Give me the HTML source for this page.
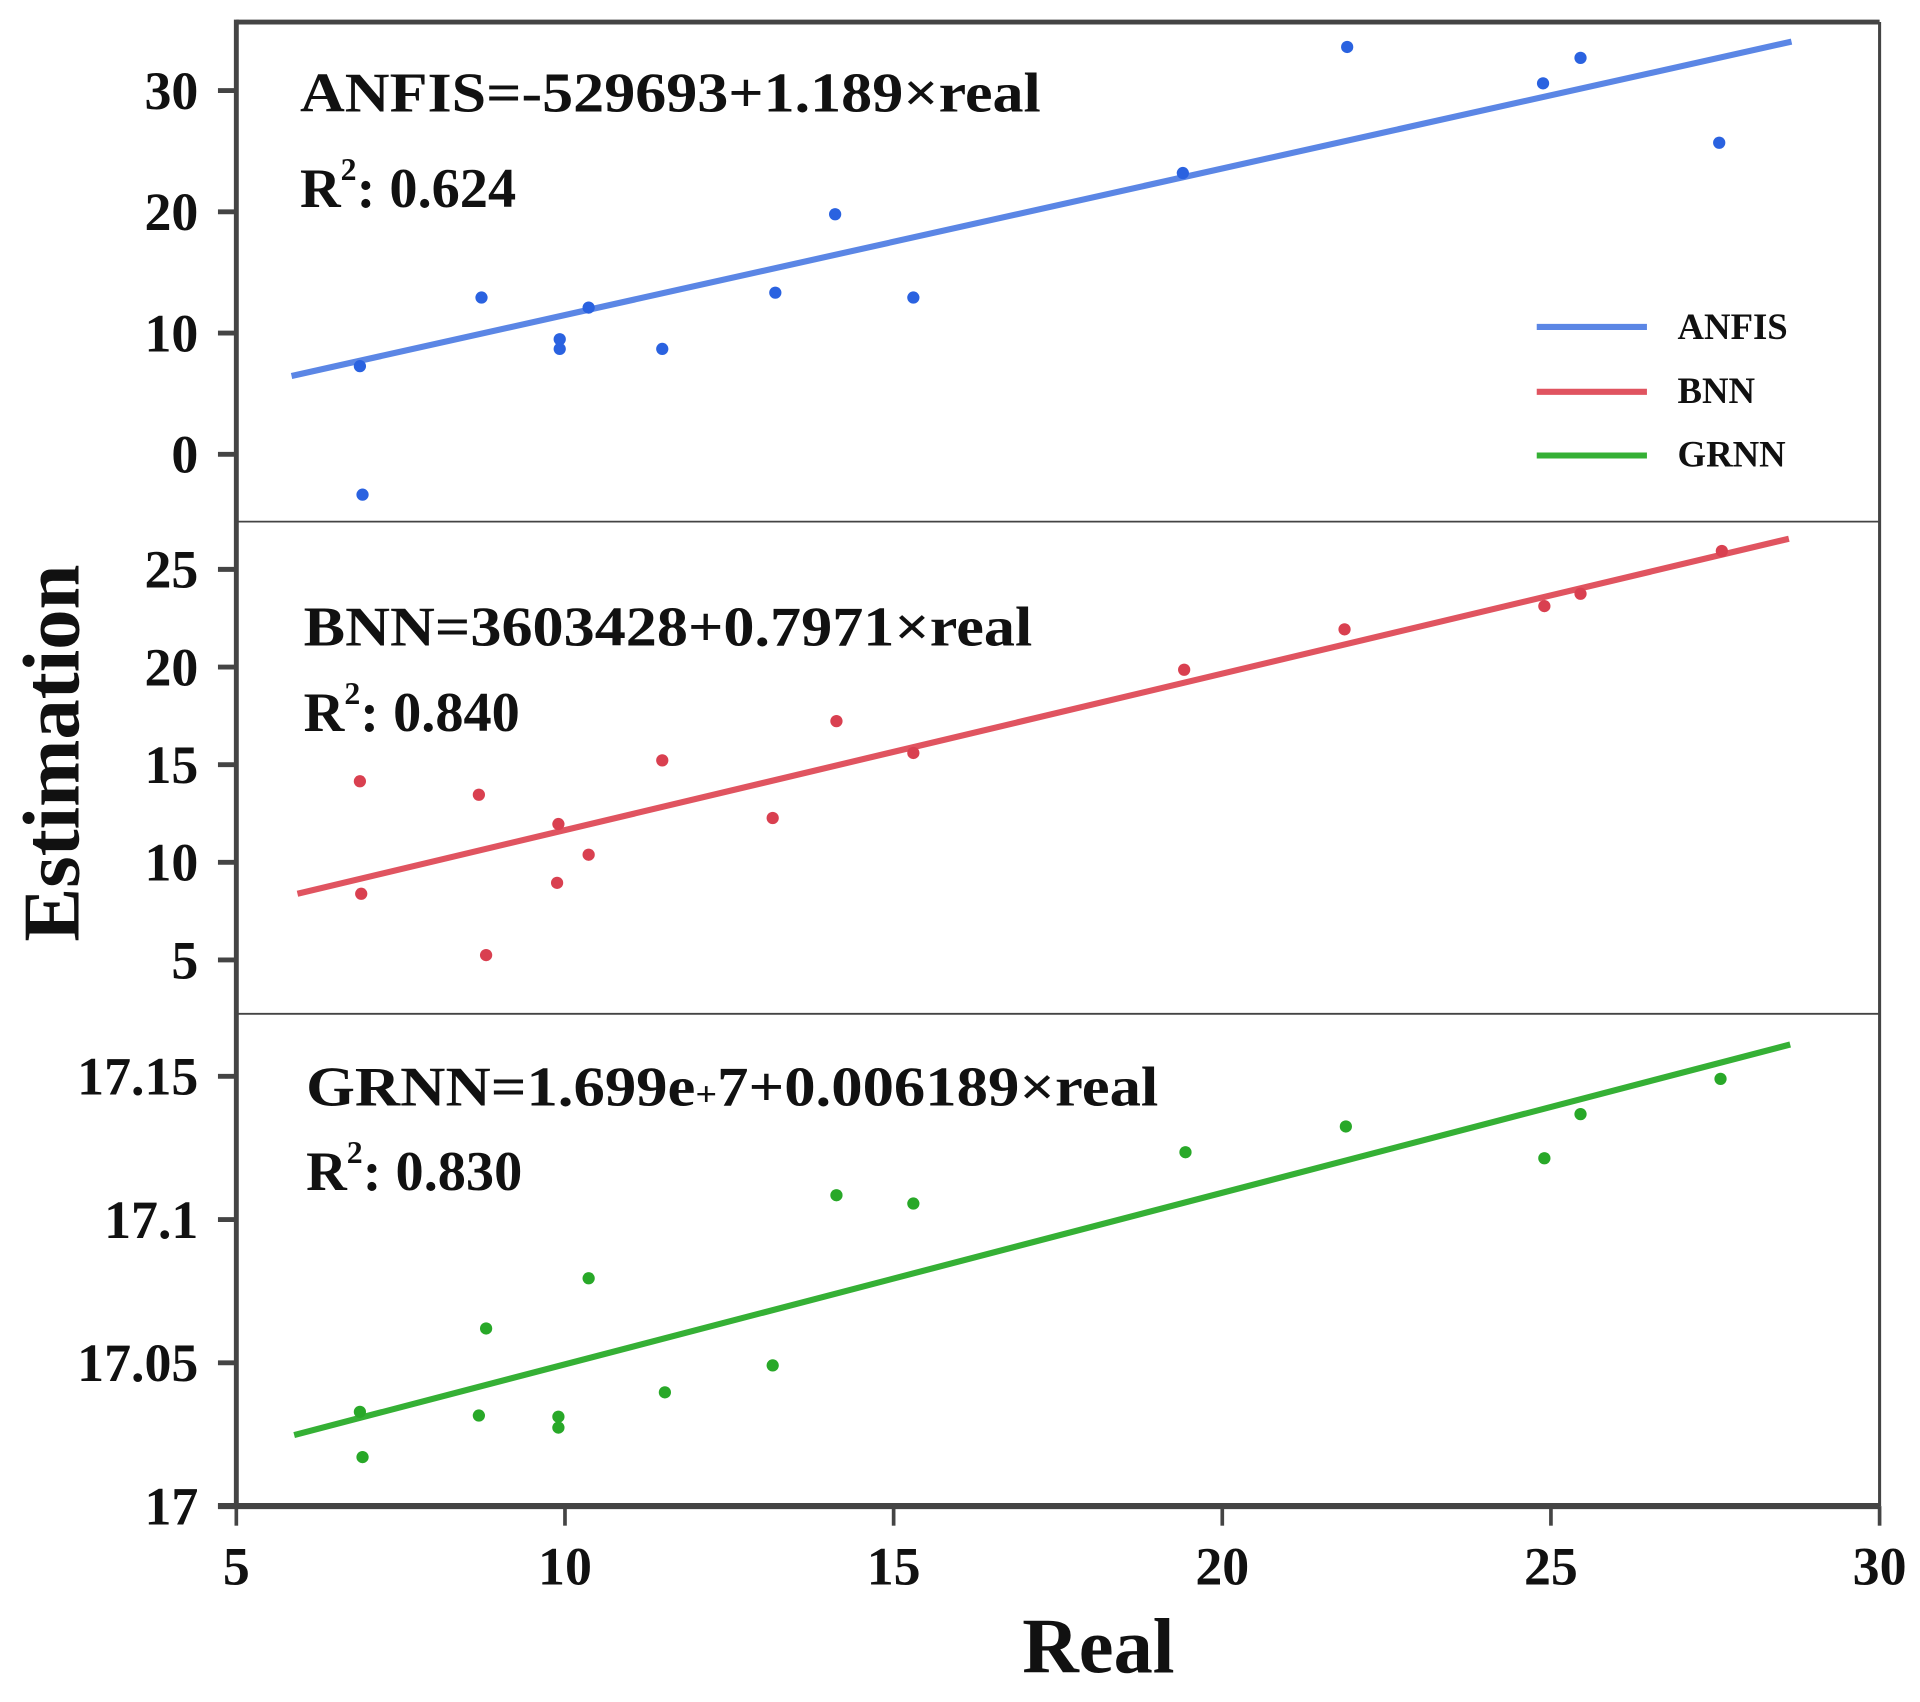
<!DOCTYPE html>
<html><head><meta charset="utf-8"><style>
html,body{margin:0;padding:0;background:#fff}
svg{display:block}
text{font-family:"Liberation Serif",serif;font-weight:bold;fill:#111}
</style></head><body>
<svg id="chart" width="1920" height="1702" viewBox="0 0 1568 1390" preserveAspectRatio="none" xmlns="http://www.w3.org/2000/svg">
<g id="frame">
<line x1="193" y1="18" x2="1535" y2="18" stroke="#444" stroke-width="4"/>
<line x1="193" y1="16" x2="193" y2="1232" stroke="#444" stroke-width="4"/>
<line x1="1535" y1="18" x2="1535" y2="1230" stroke="#444" stroke-width="2.5"/>
<line x1="178" y1="1230" x2="1535" y2="1230" stroke="#444" stroke-width="5"/>
<line x1="193" y1="426" x2="1535" y2="426" stroke="#444" stroke-width="1.5"/>
<line x1="193" y1="828" x2="1535" y2="828" stroke="#444" stroke-width="1.5"/>
</g>
<g id="marks"></g>
<g id="labels">
<text x="245" y="91" font-size="46" textLength="605" lengthAdjust="spacingAndGlyphs">ANFIS=-529693+1.189×real</text>
<text x="245" y="169" font-size="46">R<tspan font-size="26" dy="-22">2</tspan><tspan dy="22">: 0.624</tspan></text>
<text x="248" y="527" font-size="46" textLength="595" lengthAdjust="spacingAndGlyphs">BNN=3603428+0.7971×real</text>
<text x="248" y="597" font-size="46">R<tspan font-size="26" dy="-22">2</tspan><tspan dy="22">: 0.840</tspan></text>
<text x="250" y="903" font-size="46" textLength="696" lengthAdjust="spacingAndGlyphs">GRNN=1.699e<tspan font-size="28">+</tspan>7+0.006189×real</text>
<text x="250" y="972" font-size="46">R<tspan font-size="26" dy="-22">2</tspan><tspan dy="22">: 0.830</tspan></text>
<text transform="translate(64,615) rotate(-90)" text-anchor="middle" font-size="66">Estimation</text>
<text x="897" y="1366" text-anchor="middle" font-size="64">Real</text>
</g>
<g id="legend">
<line x1="1255" y1="267" x2="1345" y2="267" stroke="#5b86e5" stroke-width="5"/>
<text x="1370" y="277" font-size="30">ANFIS</text>
<line x1="1255" y1="320" x2="1345" y2="320" stroke="#e05460" stroke-width="5"/>
<text x="1370" y="329" font-size="30">BNN</text>
<line x1="1255" y1="372" x2="1345" y2="372" stroke="#35b035" stroke-width="5"/>
<text x="1370" y="381" font-size="30">GRNN</text>
</g>
</svg>
<script>
const realX = [6.88,6.92,8.73,9.92,9.92,10.36,11.48,13.2,14.11,15.3,19.4,21.9,24.88,25.45,27.56];
const anfisY = [7.27,-3.33,12.93,9.49,8.69,12.1,8.69,13.33,19.8,12.93,23.2,33.6,30.6,32.7,25.7];
const bnnX = [6.88,6.9,8.69,8.8,9.9,9.88,10.36,11.48,13.16,14.13,15.3,19.42,21.86,24.9,25.45,27.6];
const bnnY = [14.15,8.39,13.46,5.25,11.96,8.95,10.39,15.22,12.27,17.23,15.6,19.86,21.93,23.12,23.75,25.94];
const grnnX = [6.88,6.92,8.69,8.8,9.9,9.9,10.36,11.52,13.16,14.13,15.3,19.44,21.88,24.9,25.45,27.58];
const grnnY = [17.0329,17.0171,17.0316,17.062,17.0312,17.0274,17.0795,17.0397,17.0491,17.1085,17.1056,17.1235,17.1325,17.1214,17.1368,17.1491];
const anfisFit = [[5.84,6.46],[28.66,34.04]];
const bnnFit = [[5.93,8.39],[28.62,26.57]];
const grnnFit = [[5.88,17.0248],[28.64,17.1611]];
const xTicks = [5,10,15,20,25,30];
const anfisTicks = [0,10,20,30];
const bnnTicks = [5,10,15,20,25];
const grnnTicks = [17,17.05,17.1,17.15];
const grnnTickLabels = ["17","17.05","17.1","17.15"];

const NS="http://www.w3.org/2000/svg";
const marks=document.getElementById('marks');
const sx=v=>193+(v-5)*(1535-193)/25;
const syA=v=>371-v*(371-74)/30;
const syB=v=>784-(v-5)*(784-465)/20;
const syG=v=>1230-(v-17)*(1230-879)/0.15;
function mk(tag,attrs){const e=document.createElementNS(NS,tag);for(const k in attrs)e.setAttribute(k,attrs[k]);marks.appendChild(e);return e;}
function panel(xs,ys,fit,sy,lineColor,ptColor,name){
  const l=mk('line',{x1:sx(fit[0][0]),y1:sy(fit[0][1]),x2:sx(fit[1][0]),y2:sy(fit[1][1]),stroke:lineColor,'stroke-width':5});
  
  
  for(let i=0;i<ys.length;i++){
    const c=mk('circle',{cx:sx(xs[i]),cy:sy(ys[i]),r:5,fill:ptColor});
    
    
  }
}
function yticks(ticks,labels,sy,name){
  ticks.forEach((t,i)=>{
    const y=sy(t);
    const l=mk('line',{x1:178,y1:y,x2:193,y2:y,stroke:'#444','stroke-width':4});
    
    
    const tx=mk('text',{x:162,y:y+15,'text-anchor':'end','font-size':44});
    tx.textContent=labels?labels[i]:String(t);
    
    
  });
}
panel(realX,anfisY,anfisFit,syA,'#5b86e5','#2a62e0','anfis');
panel(bnnX,bnnY,bnnFit,syB,'#e05460','#d94050','bnn');
panel(grnnX,grnnY,grnnFit,syG,'#35b035','#28a828','grnn');
yticks(anfisTicks,null,syA,'anfis-y');
yticks(bnnTicks,null,syB,'bnn-y');
yticks(grnnTicks,grnnTickLabels,syG,'grnn-y');
xTicks.forEach(t=>{
  const x=sx(t);
  const l=mk('line',{x1:x,y1:1230,x2:x,y2:1246,stroke:'#444','stroke-width':3});
  
  
  const tx=mk('text',{x:x,y:1294,'text-anchor':'middle','font-size':44});
  tx.textContent=String(t);
  
  
});
</script>
</body></html>
